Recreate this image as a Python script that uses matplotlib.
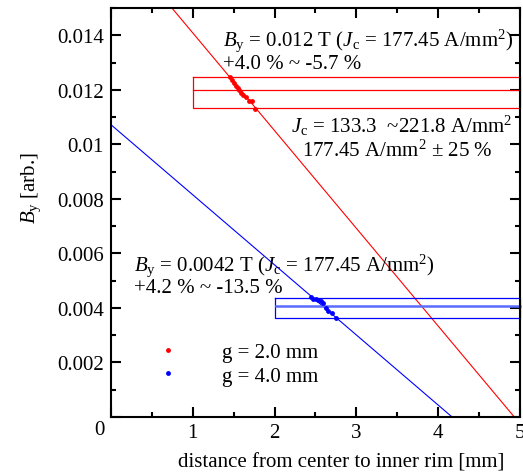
import matplotlib
matplotlib.use("Agg")
import matplotlib.pyplot as plt
from matplotlib.lines import Line2D
from matplotlib.ticker import MultipleLocator

plt.rcParams['font.family'] = ['Liberation Serif', 'DejaVu Serif']
plt.rcParams['mathtext.fontset'] = 'custom'
plt.rcParams['mathtext.rm'] = 'Liberation Serif'
plt.rcParams['mathtext.it'] = 'Liberation Serif:italic'
plt.rcParams['font.size'] = 15

# fitted lines By = a + b*x  (x in mm)
line_x = [0.0, 5.0]
red_a, red_b = 0.01767, -0.003584
blue_a, blue_b = 0.01072, -0.002571

# measured points, g = 2.0 mm
red_x = [1.455, 1.483, 1.507, 1.528, 1.549, 1.568, 1.589, 1.617, 1.647, 1.691, 1.720, 1.760]
red_y = [0.012466, 0.012342, 0.012247, 0.012148, 0.012064, 0.011976, 0.011881,
         0.011819, 0.011734, 0.011599, 0.011573, 0.011295]

# measured points, g = 4.0 mm
blue_x = [2.445, 2.473, 2.506, 2.534, 2.564, 2.588, 2.628, 2.657, 2.705, 2.751]
blue_y = [0.004402, 0.004343, 0.004317, 0.004292, 0.004244, 0.004171, 0.004014,
          0.003890, 0.003831, 0.003622]

# target field and tolerance bands
red_target = 0.012
red_band = [0.012 * 1.040, 0.012 * (1 - 0.057)]
red_band_x = [1.0, 5.0]
blue_target = 0.00408
blue_band = [0.0042 * 1.042, 0.0042 * (1 - 0.135)]
blue_band_x = [2.0, 5.0]

fig = plt.figure(figsize=(5.23, 4.77), dpi=100)
ax = fig.add_axes([0.2122, 0.1237, 0.7821, 0.8574])

ax.plot(line_x, [red_a + red_b * x for x in line_x], color='red', lw=0.8)
ax.plot(line_x, [blue_a + blue_b * x for x in line_x], color='blue', lw=0.8)

# tolerance boxes
ax.plot([red_band_x[0], red_band_x[1], red_band_x[1], red_band_x[0], red_band_x[0]],
        [red_band[0], red_band[0], red_band[1], red_band[1], red_band[0]],
        color='red', lw=0.9, clip_on=False)
ax.plot(red_band_x, [red_target, red_target], color='red', lw=0.9, clip_on=False)
ax.plot([blue_band_x[0], blue_band_x[1], blue_band_x[1], blue_band_x[0], blue_band_x[0]],
        [blue_band[0], blue_band[0], blue_band[1], blue_band[1], blue_band[0]],
        color='blue', lw=0.9, clip_on=False)
ax.plot([2.02, 5.0], [blue_target, blue_target], color='#5a6cff', lw=1.8, clip_on=False)

ax.plot(red_x, red_y, 'o', color='red', ms=3.5, mec='none')
ax.plot(blue_x, blue_y, 'o', color='blue', ms=3.5, mec='none')

ax.set_xlim(0, 5)
ax.set_ylim(0, 0.015)
ax.xaxis.set_major_locator(MultipleLocator(1))
ax.xaxis.set_minor_locator(MultipleLocator(0.5))
ax.yaxis.set_major_locator(MultipleLocator(0.002))
ax.yaxis.set_minor_locator(MultipleLocator(0.001))
ax.xaxis.set_major_formatter(lambda v, p: '' if v == 0 else '%g' % v)
ax.yaxis.set_major_formatter(lambda v, p: '' if v == 0 else '%g' % round(v, 4))
ax.tick_params(which='both', direction='in', top=True, right=True, width=1.5)
ax.tick_params(which='major', length=7)
ax.tick_params(which='minor', length=3.5)
ax.tick_params(axis='x', pad=4)
ax.tick_params(axis='y', pad=5)
for s in ax.spines.values():
    s.set_linewidth(1.5)
ax.text(-0.027, -0.031, '0', transform=ax.transAxes, ha='center', va='center')

ax.set_xlabel('distance from center to inner rim [mm]')
ax.xaxis.set_label_coords(0.562, -0.088)
ax.set_ylabel(r'$B_\mathrm{y}$ [arb.]')
ax.yaxis.set_label_coords(-0.165, 0.562)

ax.text(1.369, 0.013648, r'$B_\mathrm{y}$ = 0.012 T ($J_\mathrm{c}$ = 177.45 A/mm$^2$)', va='baseline')
ax.text(1.369, 0.012807, '+4.0 % ~ -5.7 %', va='baseline')
ax.text(3.557, 0.010465, r'$J_\mathrm{c}$ = 133.3  ~221.8 A/mm$^2$', ha='center', va='baseline')
ax.text(3.496, 0.009587, r'177.45 A/mm$^2$ $\pm$ 25 %', ha='center', va='baseline')
ax.text(0.281, 0.005415, r'$B_\mathrm{y}$ = 0.0042 T ($J_\mathrm{c}$ = 177.45 A/mm$^2$)', va='baseline')
ax.text(0.281, 0.004574, '+4.2 % ~ -13.5 %', va='baseline')

handles = [Line2D([], [], ls='none', marker='o', color='red', ms=3.5, mec='none'),
           Line2D([], [], ls='none', marker='o', color='blue', ms=3.5, mec='none')]
ax.legend(handles, ['g = 2.0 mm', 'g = 4.0 mm'], loc='center left',
          bbox_to_anchor=(0.088, 0.1296), frameon=False, borderpad=0, borderaxespad=0,
          handlelength=2, handletextpad=1.6, labelspacing=0.2)

fig.savefig('out.png', dpi=100)
